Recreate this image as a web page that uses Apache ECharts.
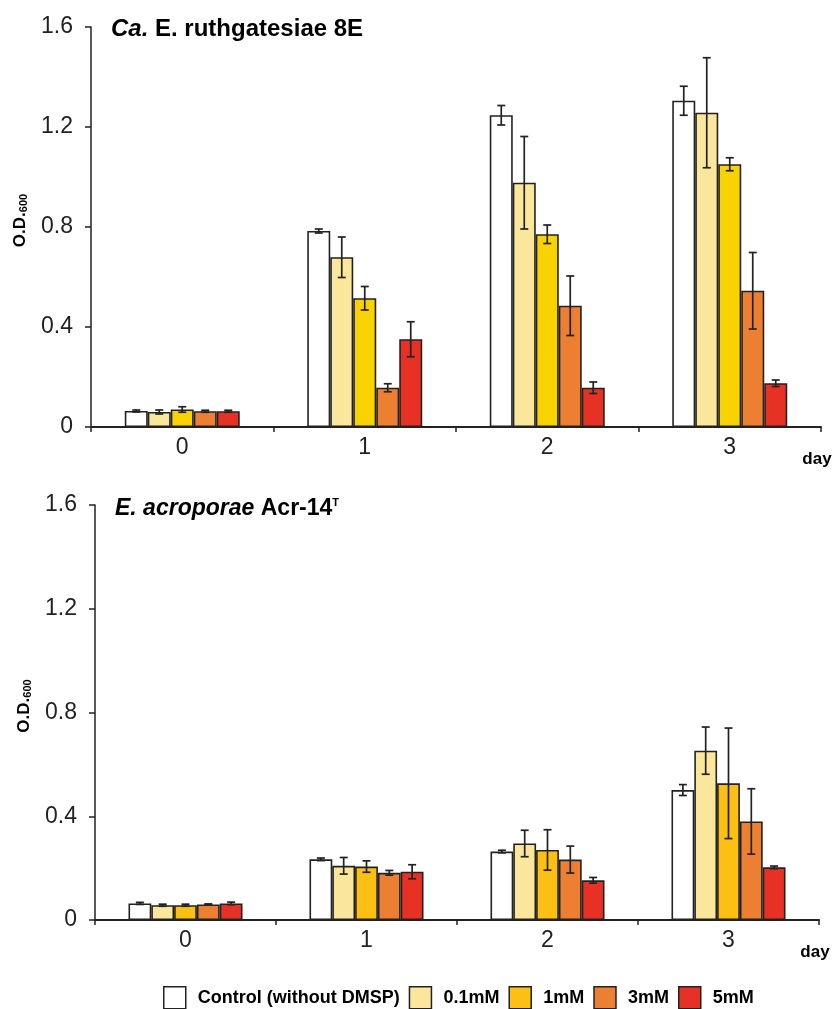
<!DOCTYPE html>
<html>
<head>
<meta charset="utf-8">
<script src="https://cdn.jsdelivr.net/npm/echarts@6/dist/echarts.min.js"></script>
<style>
  html, body { margin: 0; padding: 0; background: #fff; }
  #chart { width: 839px; height: 1009px; }
</style>
</head>
<body>
<div id="chart"></div>
<script>
  // data (O.D.600, mean and error)
  var days = ['0', '1', '2', '3'];
  var conditions = ['Control (without DMSP)', '0.1mM', '1mM', '3mM', '5mM'];
  var yTicks = [0, 0.4, 0.8, 1.2, 1.6];

  // Ca. E. ruthgatesiae 8E
  var topMeans = [
    [0.064, 0.784, 1.247, 1.305],
    [0.060, 0.679, 0.977, 1.257],
    [0.070, 0.515, 0.771, 1.051],
    [0.063, 0.157, 0.485, 0.545],
    [0.063, 0.351, 0.157, 0.175]
  ];
  var topErrs = [
    [0.004, 0.008, 0.039, 0.058],
    [0.008, 0.081, 0.185, 0.220],
    [0.011, 0.047, 0.037, 0.026],
    [0.004, 0.016, 0.119, 0.153],
    [0.004, 0.070, 0.023, 0.013]
  ];

  // E. acroporae Acr-14T
  var bottomMeans = [
    [0.064, 0.234, 0.264, 0.501],
    [0.057, 0.209, 0.295, 0.653],
    [0.057, 0.206, 0.270, 0.527],
    [0.060, 0.182, 0.233, 0.380],
    [0.064, 0.186, 0.153, 0.203]
  ];
  var bottomErrs = [
    [0.004, 0.005, 0.005, 0.021],
    [0.004, 0.032, 0.051, 0.091],
    [0.004, 0.022, 0.078, 0.213],
    [0.002, 0.009, 0.052, 0.126],
    [0.005, 0.027, 0.011, 0.005]
  ];

  var topColors = ['#ffffff', '#fbe79b', '#f9d300', '#ec7f31', '#e83125'];
  var bottomColors = ['#ffffff', '#fbe79b', '#fcc015', '#ec7f31', '#e83125'];

  var font = '"Liberation Sans", Arial, sans-serif';
  var ink = '#222';
  var groupShare = 0.63;

  function errorItem(params, api) {
    var cat = api.value(0);
    var k = api.value(1);
    var m = api.value(2);
    var e = api.value(3);
    var bw = api.size([1, 0])[0] * groupShare / 5;
    var cx = api.coord([cat, 0])[0] + (k - 2) * bw;
    var yHi = api.coord([cat, m + e])[1];
    var yLo = api.coord([cat, m - e])[1];
    var cap = 4;
    var st = { stroke: ink, lineWidth: 1.7 };
    return {
      type: 'group',
      children: [
        { type: 'line', shape: { x1: cx, y1: yHi, x2: cx, y2: yLo }, style: st },
        { type: 'line', shape: { x1: cx - cap, y1: yHi, x2: cx + cap, y2: yHi }, style: st },
        { type: 'line', shape: { x1: cx - cap, y1: yLo, x2: cx + cap, y2: yLo }, style: st }
      ]
    };
  }

  function errorData(means, errs) {
    var out = [];
    for (var k = 0; k < means.length; k++) {
      for (var c = 0; c < days.length; c++) {
        out.push([c, k, means[k][c], errs[k][c]]);
      }
    }
    return out;
  }

  function xAxisFor(idx) {
    return {
      type: 'category',
      gridIndex: idx,
      data: days,
      name: 'day',
      nameLocation: 'end',
      nameGap: -4,
      nameTextStyle: { fontFamily: font, fontSize: 17, fontWeight: 'bold', color: '#000',
        align: 'center', verticalAlign: 'top', padding: [24, 0, 0, 0] },
      axisLine: { lineStyle: { color: ink, width: 2 } },
      axisTick: { show: true, alignWithLabel: false, length: 5, lineStyle: { color: ink, width: 1.5 } },
      axisLabel: { fontFamily: font, fontSize: 23, color: '#222', margin: 9 }
    };
  }

  function yAxisFor(idx) {
    return {
      type: 'value',
      gridIndex: idx,
      min: 0,
      max: 1.6,
      interval: 0.4,
      name: '{a|O.D.}{b|600}',
      nameLocation: 'middle',
      nameGap: 62,
      nameTextStyle: {
        padding: [0, 0, 0, 13],
        rich: {
          a: { fontFamily: font, fontSize: 17, fontWeight: 'bold', color: '#000' },
          b: { fontFamily: font, fontSize: 11, fontWeight: 'bold', color: '#000', padding: [6, 0, 0, 0] }
        }
      },
      splitLine: { show: false },
      axisLine: { show: true, lineStyle: { color: ink, width: 1.5 } },
      axisTick: { show: true, length: 6, lineStyle: { color: ink, width: 1.5 } },
      axisLabel: {
        fontFamily: font, fontSize: 23, color: '#222', margin: 18,
        formatter: function (v) {
          return yTicks.indexOf(+v.toFixed(1)) >= 0 ? String(+v.toFixed(1)) : '';
        }
      }
    };
  }

  var series = [];
  for (var k = 0; k < conditions.length; k++) {
    series.push({
      name: conditions[k],
      type: 'bar',
      xAxisIndex: 0,
      yAxisIndex: 0,
      data: topMeans[k],
      barGap: '0%',
      barCategoryGap: '37%',
      itemStyle: { color: topColors[k], borderColor: ink, borderWidth: 1.6 },
      silent: true
    });
  }
  for (var k = 0; k < conditions.length; k++) {
    series.push({
      name: conditions[k],
      type: 'bar',
      xAxisIndex: 1,
      yAxisIndex: 1,
      data: bottomMeans[k],
      barGap: '0%',
      barCategoryGap: '37%',
      itemStyle: { color: bottomColors[k], borderColor: ink, borderWidth: 1.6 },
      silent: true
    });
  }
  series.push({
    type: 'custom', xAxisIndex: 0, yAxisIndex: 0, z: 5,
    renderItem: errorItem, encode: { x: 0, y: 2 },
    data: errorData(topMeans, topErrs), silent: true
  });
  series.push({
    type: 'custom', xAxisIndex: 1, yAxisIndex: 1, z: 5,
    renderItem: errorItem, encode: { x: 0, y: 2 },
    data: errorData(bottomMeans, bottomErrs), silent: true
  });

  var chart = echarts.init(document.getElementById('chart'), null, { renderer: 'canvas' });
  chart.setOption({
    backgroundColor: '#fff',
    animation: false,
    title: [
      {
        text: '{i|Ca.}{b| E. ruthgatesiae 8E}',
        left: 106, top: 12,
        textStyle: { rich: {
          i: { fontFamily: font, fontSize: 24, fontWeight: 'bold', fontStyle: 'italic', color: '#000' },
          b: { fontFamily: font, fontSize: 24, fontWeight: 'bold', color: '#000' }
        } }
      },
      {
        text: '{i|E. acroporae}{b| Acr-14}{s|T}',
        left: 110, top: 492,
        textStyle: { rich: {
          i: { fontFamily: font, fontSize: 23, fontWeight: 'bold', fontStyle: 'italic', color: '#000' },
          b: { fontFamily: font, fontSize: 23, fontWeight: 'bold', color: '#000' },
          s: { fontFamily: font, fontSize: 11, fontWeight: 'bold', color: '#000', padding: [0, 0, 11, 0] }
        } }
      }
    ],
    legend: {
      left: 163,
      top: 986,
      padding: 0,
      itemWidth: 22,
      itemHeight: 22,
      itemGap: 9,
      icon: 'rect',
      data: conditions.map(function (n, i) {
        return { name: n, itemStyle: { color: bottomColors[i], borderColor: ink, borderWidth: 1.5 } };
      }),
      textStyle: { fontFamily: font, fontSize: 18, fontWeight: 'bold', color: '#000', padding: [0, 0, 0, 7] },
      selectedMode: false
    },
    grid: [
      { left: 91, right: 18, top: 27, height: 400 },
      { left: 95, right: 20, top: 505, height: 415 }
    ],
    xAxis: [xAxisFor(0), xAxisFor(1)],
    yAxis: [yAxisFor(0), yAxisFor(1)],
    series: series
  });
</script>
</body>
</html>
